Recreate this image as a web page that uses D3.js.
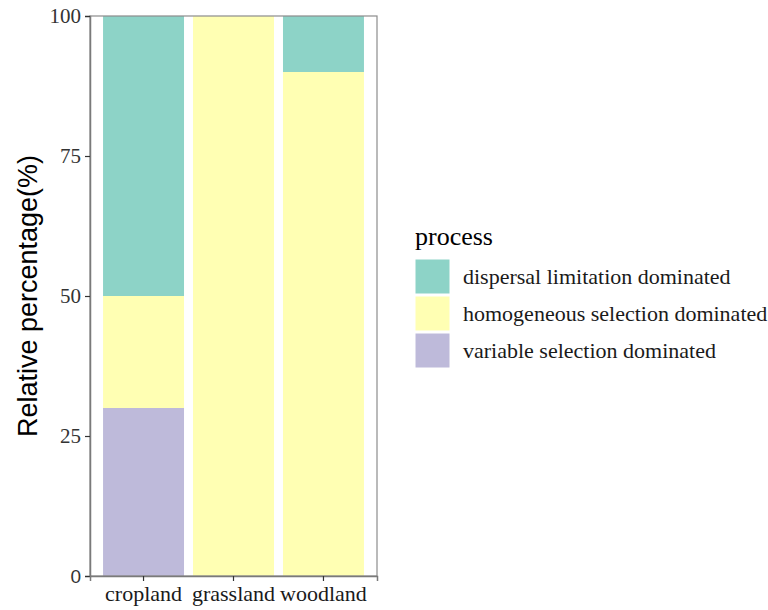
<!DOCTYPE html>
<html><head><meta charset="utf-8">
<script src="https://cdn.jsdelivr.net/npm/d3@7"></script>
<style>body{margin:0;background:#fff}</style>
</head><body><svg id="c" width="768" height="610"></svg>
<script>
const categories = ["cropland", "grassland", "woodland"];
const processes = ["variable selection dominated", "homogeneous selection dominated", "dispersal limitation dominated"];
const variableSel = [30, 0, 0];
const homogeneousSel = [20, 100, 90];
const dispersalLim = [50, 0, 10];
const legendOrder = ["dispersal limitation dominated", "homogeneous selection dominated", "variable selection dominated"];
const colors = ["#BEBADA", "#FFFFB3", "#8DD3C7"];
const yTicks = [0, 25, 50, 75, 100];

const rows = categories.map((c, i) => ({
  cat: c,
  "variable selection dominated": variableSel[i],
  "homogeneous selection dominated": homogeneousSel[i],
  "dispersal limitation dominated": dispersalLim[i]
}));
const stack = d3.stack().keys(processes)(rows);

const svg = d3.select("#c");
const L = 90, R = 377, T = 16, B = 576;
const x = d3.scaleBand().domain(categories).range([L, R]).paddingInner(0.1).paddingOuter(0.145);
const y = d3.scaleLinear().domain([0, 100]).range([B, T]);
const color = d3.scaleOrdinal().domain(processes).range(colors);

svg.append("g").selectAll("g").data(stack).join("g")
  .attr("fill", d => color(d.key))
  .selectAll("rect").data(d => d).join("rect")
  .attr("x", d => x(d.data.cat))
  .attr("width", x.bandwidth())
  .attr("y", d => y(d[1]))
  .attr("height", d => y(d[0]) - y(d[1]));

// panel border
svg.append("rect").attr("x", L).attr("y", T).attr("width", R - L).attr("height", B - T)
  .attr("fill", "none").attr("stroke", "#8c8c8c").attr("stroke-width", 1.2);

const yAxis = svg.append("g").attr("transform", `translate(${L},0)`)
  .call(d3.axisLeft(y).tickValues(yTicks).tickSize(5).tickPadding(4));
yAxis.select(".domain").attr("stroke", "#7a7a7a").attr("stroke-width", 1.5);
yAxis.selectAll(".tick line").attr("stroke", "#333").attr("stroke-width", 1.2);
yAxis.selectAll(".tick text").attr("fill", "#333")
  .style("font-family", d => d === 0 ? "Liberation Sans, Arial, sans-serif" : "Liberation Serif, Times New Roman, serif")
  .style("font-size", d => d === 0 ? "19px" : "21px");

const xAxis = svg.append("g").attr("transform", `translate(0,${B})`)
  .call(d3.axisBottom(x).tickSize(5).tickPadding(4));
xAxis.select(".domain").attr("stroke", "#7a7a7a").attr("stroke-width", 1.5);
xAxis.selectAll(".tick line").attr("stroke", "#333").attr("stroke-width", 1.2);
xAxis.selectAll(".tick text").attr("fill", "#1a1a1a")
  .style("font-family", "Liberation Serif, Times New Roman, serif").style("font-size", "22px");

svg.append("text")
  .attr("transform", `translate(37,${(T + B) / 2}) rotate(-90)`)
  .attr("text-anchor", "middle")
  .style("font-family", "Liberation Sans, Arial, sans-serif").style("font-size", "27px")
  .attr("fill", "#000")
  .text("Relative percentage(%)");

// legend
const lg = svg.append("g");
lg.append("text").attr("x", 415).attr("y", 245)
  .style("font-family", "Liberation Serif, Times New Roman, serif").style("font-size", "26px")
  .attr("fill", "#000").text("process");
const items = lg.selectAll("g.it").data(legendOrder).join("g")
  .attr("transform", (d, i) => `translate(415,${259 + i * 37})`);
items.append("rect").attr("width", 35).attr("height", 35)
  .attr("fill", d => color(d)).attr("stroke", "#fff").attr("stroke-width", 1);
items.append("text").attr("x", 48).attr("y", 25)
  .style("font-family", "Liberation Serif, Times New Roman, serif").style("font-size", "22px")
  .attr("fill", "#1a1a1a").text(d => d);
</script></body></html>
